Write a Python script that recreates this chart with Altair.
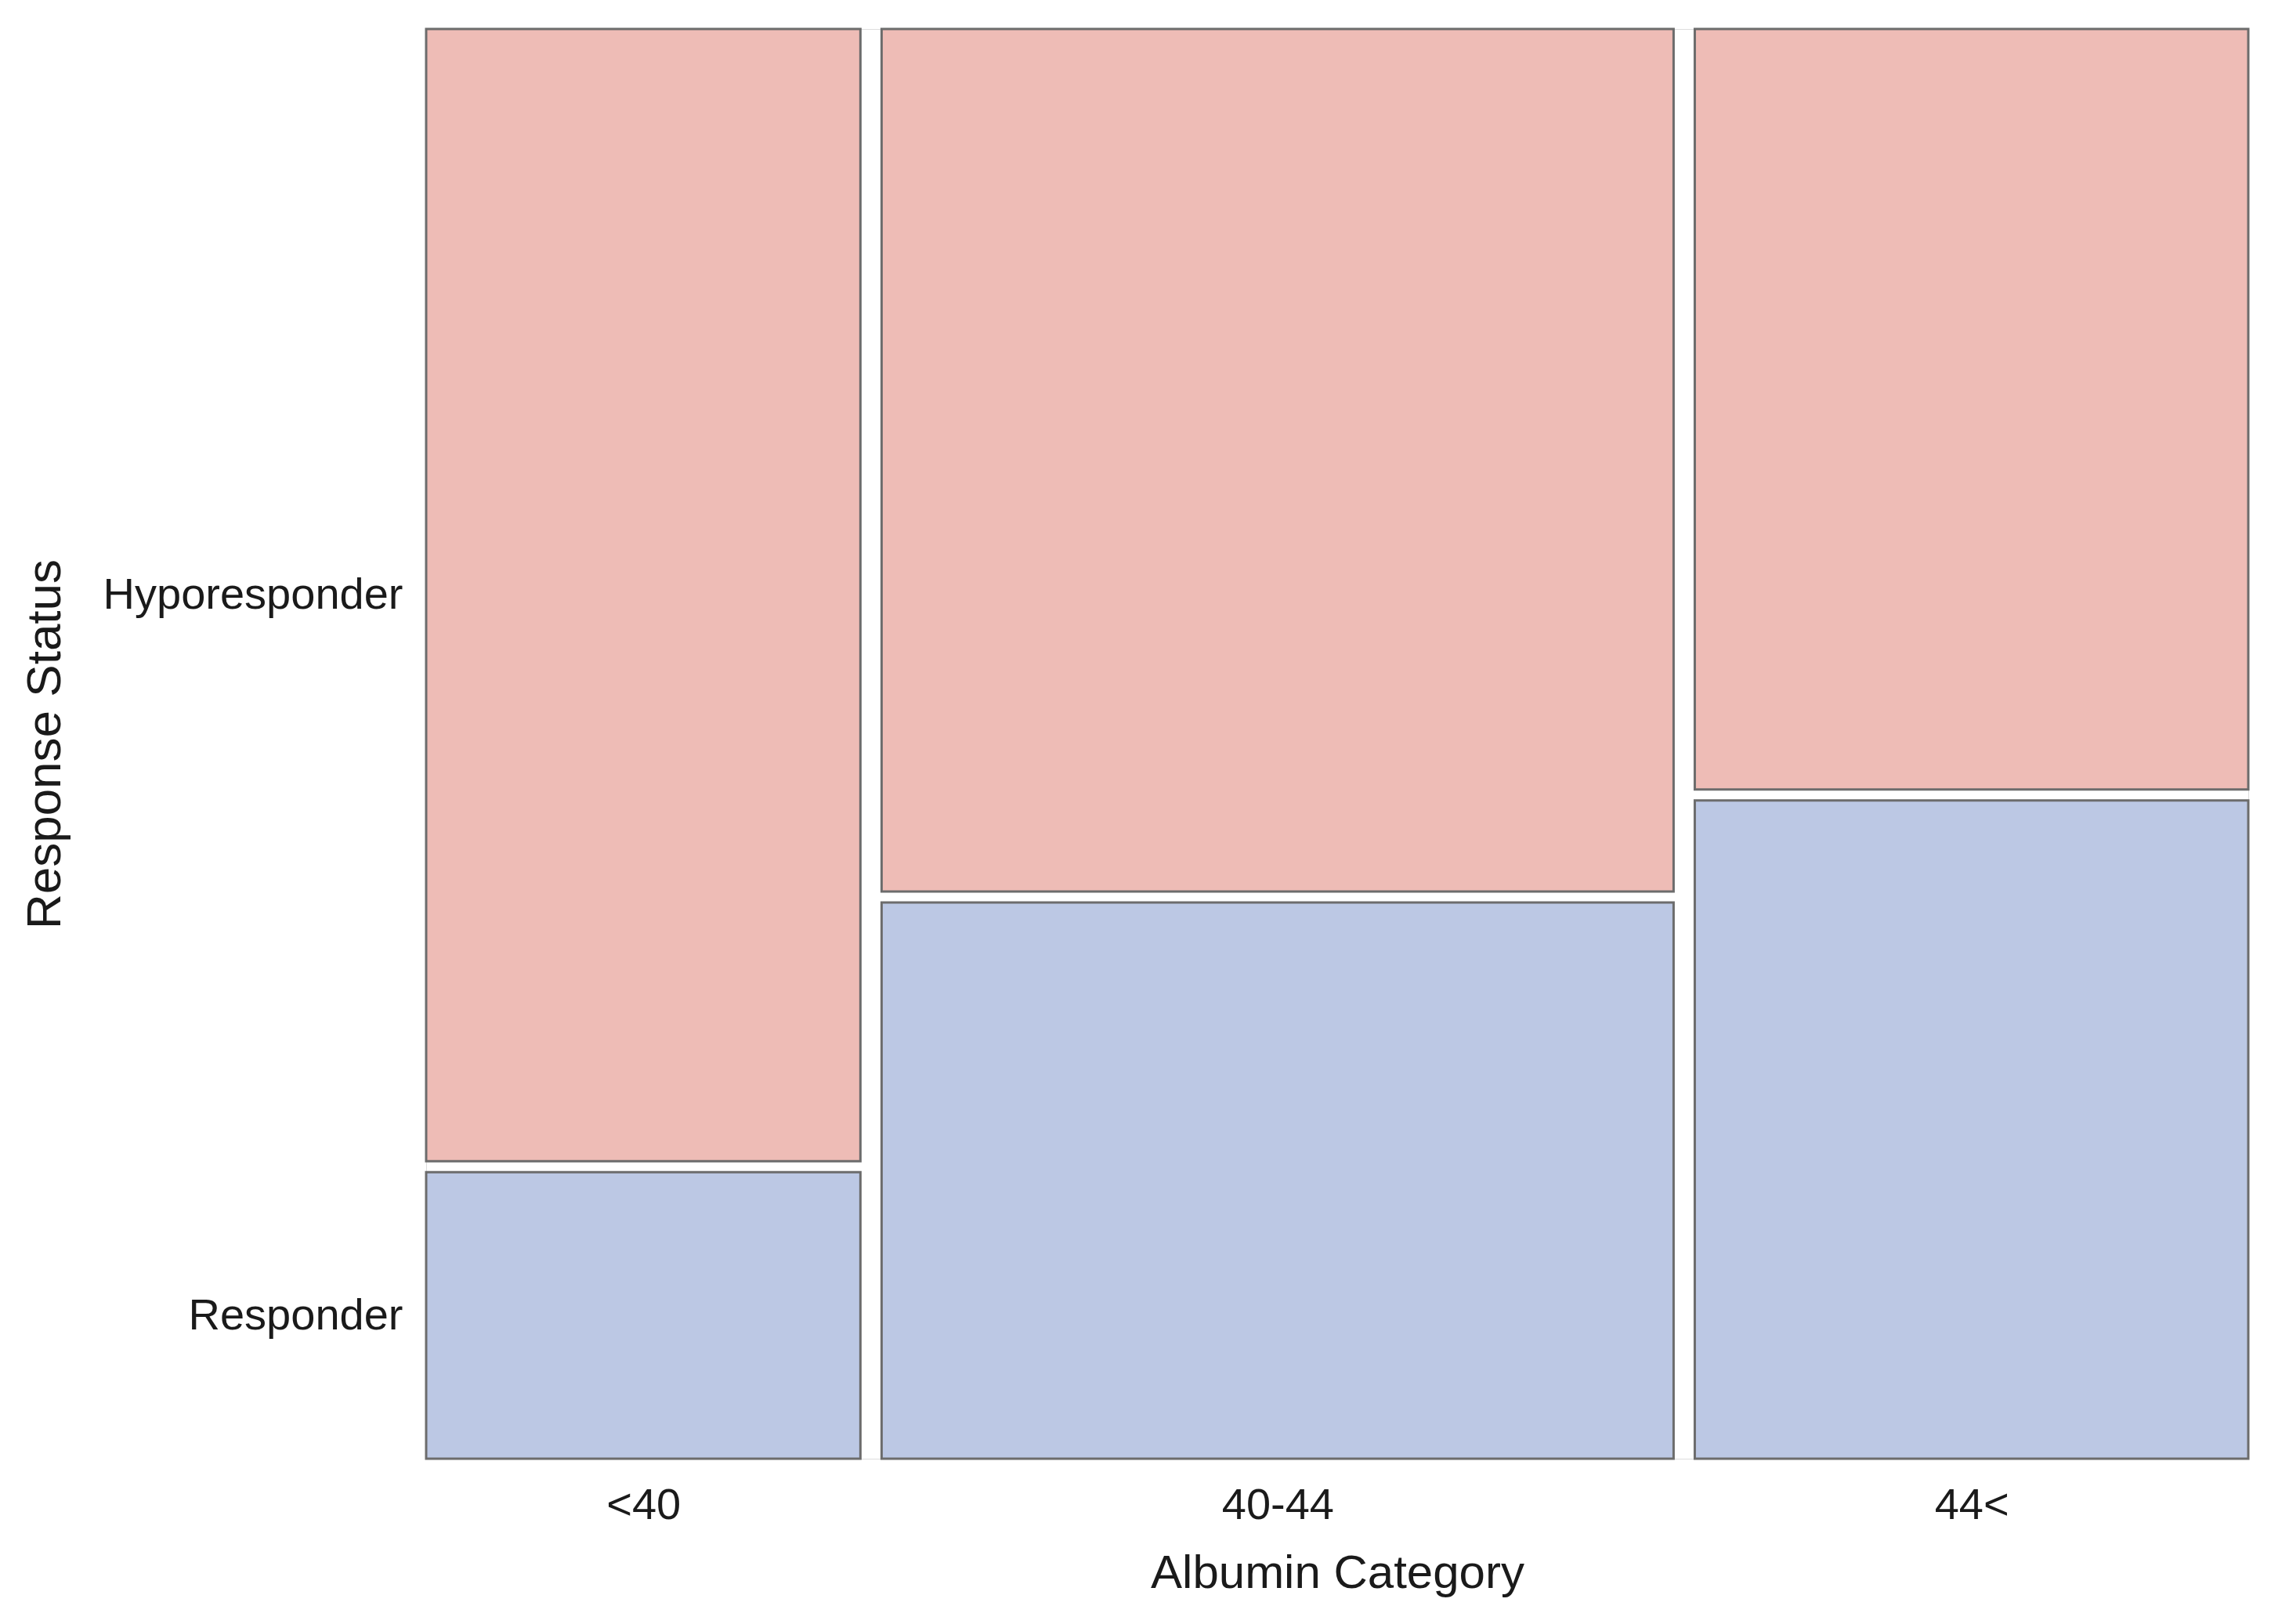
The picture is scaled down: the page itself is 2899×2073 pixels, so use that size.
import altair as alt
import pandas as pd

# ---- data ----
categories = ["<40", "40-44", "44<"]          # Albumin Category
category_share = [0.244, 0.445, 0.311]        # column widths (share of patients)
responder_share = [0.202, 0.392, 0.464]       # share of Responders within each column
statuses = ["Hyporesponder", "Responder"]
status_colors = ["#EEBCB6", "#BCC8E4"]

# ---- layout constants (gaps between tiles, in scale units) ----
GAP_X = 0.0119
GAP_Y = 0.0077

rows = []
centers = []
bounds = []
x = 0.0
for cat, w, r in zip(categories, category_share, responder_share):
    x0, x1 = x, x + w
    rows.append(dict(category=cat, status="Responder", x0=x0, x1=x1, y0=0.0, y1=r))
    rows.append(dict(category=cat, status="Hyporesponder", x0=x0, x1=x1,
                     y0=r + GAP_Y, y1=1.0 + GAP_Y))
    centers.append((x0 + x1) / 2)
    bounds.append(x1 + GAP_X / 2)
    x = x1 + GAP_X
x_max = x - GAP_X
y_max = 1.0 + GAP_Y
df = pd.DataFrame(rows)

x_label_expr = (
    f"datum.value < {bounds[0]} ? '{categories[0]}' : "
    f"datum.value < {bounds[1]} ? '{categories[1]}' : '{categories[2]}'"
)
r1 = responder_share[0]
y_ticks = [r1 / 2, (r1 + GAP_Y + y_max) / 2]
y_label_expr = f"datum.value < {r1} ? 'Responder' : 'Hyporesponder'"

FONT = "Liberation Sans"

chart = alt.Chart(df).mark_rect(stroke="#6c6c6c", strokeWidth=3).encode(
    x=alt.X("x0:Q", scale=alt.Scale(domain=[0, x_max], nice=False, zero=False),
            axis=alt.Axis(values=centers, labelExpr=x_label_expr, title="Albumin Category",
                          labelFont=FONT, labelFontSize=56,
                          titleFont=FONT, titleFontSize=60,
                          titleFontWeight="normal", labelColor="#1a1a1a", titleColor="#1a1a1a",
                          labelPadding=32, titlePadding=30, ticks=False, tickSize=0,
                          labelLimit=1000, domain=False, grid=False)),
    x2="x1:Q",
    y=alt.Y("y0:Q", scale=alt.Scale(domain=[0, y_max], nice=False, zero=False),
            axis=alt.Axis(values=y_ticks, labelExpr=y_label_expr, title="Response Status",
                          labelFont=FONT, labelFontSize=56,
                          titleFont=FONT, titleFontSize=62,
                          titleFontWeight="normal", labelColor="#1a1a1a", titleColor="#1a1a1a",
                          labelPadding=30, titleX=-455, titleBaseline="bottom",
                          ticks=False, tickSize=0,
                          labelLimit=1000, domain=False, grid=False)),
    y2="y1:Q",
    color=alt.Color("status:N", scale=alt.Scale(domain=statuses, range=status_colors),
                    legend=None),
).properties(
    width=2326,
    height=1825,
    padding={"left": 18, "top": 27, "right": 5, "bottom": 5},
).configure_view(stroke=None).configure(background="white")

chart.save("out.html", embed_options={"renderer": "svg", "actions": False})
